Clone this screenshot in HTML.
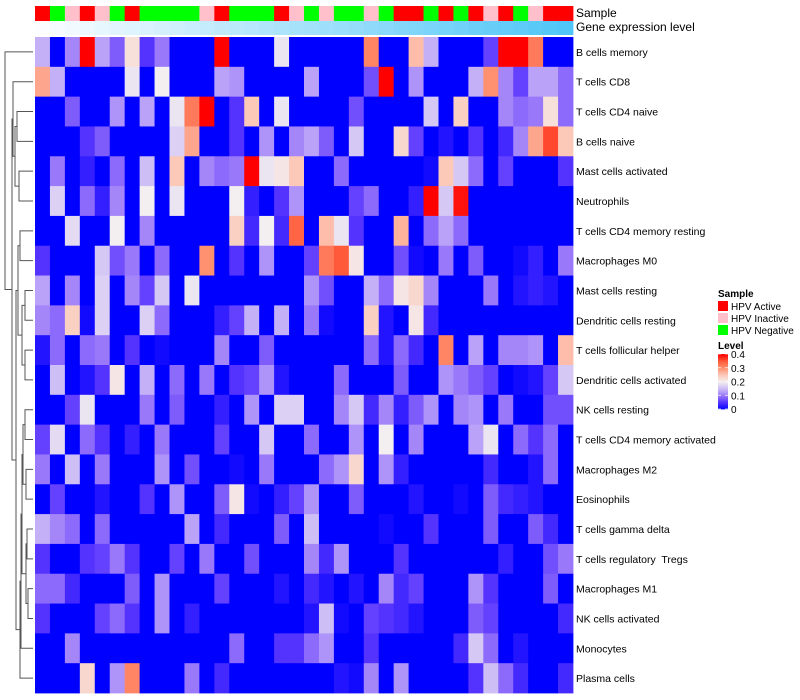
<!DOCTYPE html>
<html><head><meta charset="utf-8"><style>
body{margin:0;background:#fff;}
svg{display:block;font-family:"Liberation Sans",sans-serif;}
text{white-space:pre;}
</style></head><body>
<svg id="chart" width="800" height="700"></svg>
<script>
const rowNames=["B cells memory","T cells CD8","T cells CD4 naive","B cells naive","Mast cells activated","Neutrophils","T cells CD4 memory resting","Macrophages M0","Mast cells resting","Dendritic cells resting","T cells follicular helper","Dendritic cells activated","NK cells resting","T cells CD4 memory activated","Macrophages M2","Eosinophils","T cells gamma delta","T cells regulatory  Tregs","Macrophages M1","NK cells activated","Monocytes","Plasma cells"];
const sampleGroups="A N I A I N A N N N N I A N N N A I N I N N I N A A N A N A I A N I A A".split(" ");
const levelTicks=[0,0.1,0.2,0.3,0.4];
const r0=[0.14,0,0.11,0.4,0.13,0.08,0.22,0.05,0.1,0,0,0,0.4,0,0,0,0.19,0,0,0,0,0,0.31,0,0,0.26,0.14,0,0,0,0.06,0.4,0.4,0.32,0,0];
const r1=[0.28,0.14,0,0,0,0,0.19,0,0.2,0,0,0,0.13,0.12,0,0,0,0,0.13,0,0,0,0.07,0.4,0,0.12,0,0,0,0.14,0.3,0.11,0.06,0.13,0.13,0.09];
const r2=[0,0,0.08,0,0,0.12,0,0.13,0,0.19,0.32,0.4,0,0.05,0.25,0,0.19,0,0,0,0,0.07,0,0,0,0,0.16,0,0.24,0,0,0.11,0.09,0.1,0.22,0.09];
const r3=[0,0,0,0.05,0.08,0,0,0,0,0.17,0.28,0,0,0.05,0,0.12,0,0.11,0.13,0.08,0,0.16,0,0,0.23,0.06,0,0.02,0,0.05,0,0.04,0.11,0.28,0.36,0.25];
const r4=[0,0.1,0,0.03,0,0.09,0,0.15,0,0.25,0,0.11,0.09,0.1,0.4,0.19,0.21,0.25,0,0,0.09,0,0,0,0,0,0.01,0.25,0.16,0.09,0,0.06,0,0,0,0.05];
const r5=[0,0.17,0,0.09,0.03,0.11,0,0.2,0,0.19,0,0,0,0.2,0.03,0,0.05,0.12,0,0,0,0.06,0.09,0,0,0.03,0.4,0.16,0.39,0,0,0,0,0,0,0];
const r6=[0,0,0.18,0,0,0.2,0,0.11,0,0,0,0,0,0.24,0.04,0.2,0.04,0.34,0,0.26,0.19,0.05,0,0,0.27,0,0.09,0.13,0.09,0,0,0,0,0,0,0];
const r7=[0.05,0,0,0,0.16,0.07,0.1,0,0.09,0,0,0.3,0,0.05,0,0.12,0,0,0.06,0.32,0.35,0.21,0,0,0.07,0.01,0,0.1,0,0.08,0,0,0.01,0.03,0,0.1];
const r8=[0.13,0,0.11,0,0.17,0,0.11,0.06,0.16,0,0.19,0,0,0,0,0,0,0,0.12,0.07,0,0,0.14,0.09,0.21,0.23,0.11,0,0,0,0.1,0,0.02,0.03,0.02,0];
const r9=[0.11,0.09,0.24,0.01,0.17,0,0,0.17,0.09,0,0,0,0.03,0.06,0.14,0,0.14,0,0.1,0.01,0,0,0.24,0.02,0,0.21,0.04,0,0,0,0,0,0,0,0,0];
const r10=[0.02,0.09,0,0.09,0.1,0,0.05,0,0.01,0,0,0,0.11,0,0,0.08,0,0,0,0,0,0,0.09,0.02,0.09,0.04,0,0.31,0,0.13,0,0.11,0.11,0.12,0,0.26];
const r11=[0,0.15,0,0.02,0.05,0.21,0,0.14,0,0.09,0,0.1,0,0.05,0.06,0.12,0.02,0,0,0,0.09,0,0,0,0.08,0,0,0.12,0.1,0.08,0.06,0,0.01,0.02,0.06,0.16];
const r12=[0,0,0.06,0.19,0,0,0,0.1,0,0.08,0,0,0.03,0,0.12,0,0.17,0.17,0,0,0.11,0.16,0.04,0.11,0.03,0.08,0.12,0,0.11,0.12,0,0.1,0,0,0.07,0.07];
const r13=[0.06,0.18,0,0.09,0.05,0,0.03,0,0.1,0,0,0,0.06,0,0,0.16,0,0,0.09,0,0,0.12,0,0.2,0,0.11,0,0,0,0.13,0.19,0,0.09,0.05,0.09,0];
const r14=[0.1,0,0.15,0,0.1,0,0,0,0.12,0,0.07,0,0,0.01,0,0.1,0,0,0,0.09,0.12,0.23,0,0.12,0.03,0,0,0,0,0,0.04,0,0,0.02,0.09,0];
const r15=[0,0.06,0,0,0.02,0,0,0.05,0,0.12,0,0,0.08,0.21,0.01,0,0.03,0.06,0.12,0,0,0.08,0,0,0,0.02,0,0,0.01,0,0.08,0.04,0.03,0.02,0,0];
const r16=[0.14,0.11,0.09,0,0.09,0,0,0,0,0,0.13,0,0.04,0,0,0,0.08,0,0.15,0,0,0,0,0.01,0,0,0.05,0,0,0,0.08,0,0,0.08,0.04,0];
const r17=[0.05,0,0,0.05,0.06,0.1,0.05,0,0,0.06,0,0.1,0,0,0.07,0,0,0,0.11,0.04,0.12,0,0,0,0.05,0,0,0,0,0,0,0.03,0,0,0.07,0.1];
const r18=[0.09,0.09,0.04,0,0,0,0.08,0,0.12,0,0,0,0.06,0,0,0,0.02,0,0.04,0.02,0,0.02,0,0.11,0.04,0.06,0,0,0,0.12,0.05,0,0,0,0.08,0];
const r19=[0.05,0,0,0,0.06,0.09,0.05,0,0.12,0,0.03,0,0,0,0,0,0,0,0.02,0.15,0.01,0,0.06,0.05,0.04,0.02,0,0,0,0.08,0.06,0,0,0,0,0.04];
const r20=[0,0,0.11,0,0,0,0,0,0,0,0,0,0,0.09,0,0,0.05,0.05,0.09,0.12,0,0,0.05,0,0,0,0,0,0.04,0.16,0.09,0,0.02,0,0,0];
const r21=[0,0,0,0.23,0,0.12,0.31,0,0,0,0.1,0,0.04,0,0,0,0,0,0,0,0.02,0.01,0.11,0,0.12,0,0,0,0,0.05,0.15,0.09,0.04,0,0,0.04];
const values=[r0,r1,r2,r3,r4,r5,r6,r7,r8,r9,r10,r11,r12,r13,r14,r15,r16,r17,r18,r19,r20,r21];

const NS="http://www.w3.org/2000/svg";
const svg=document.getElementById("chart");
const X0=35,X1=573,Y0=37,Y1=693;
const nC=sampleGroups.length,nR=rowNames.length;
const cw=(X1-X0)/nC,rh=(Y1-Y0)/nR;
const xCol=c=>X0+c*cw, yRow=r=>Y0+r*rh;
const stops=[[0,[0,0,255]],[0.05,[85,51,255]],[0.1,[154,120,250]],[0.15,[205,190,246]],[0.2,[243,238,240]],[0.25,[252,200,184]],[0.3,[255,144,112]],[0.35,[255,90,58]],[0.4,[255,0,0]]];
function colorOf(v){v=Math.max(0,Math.min(0.4,v));for(let i=1;i<stops.length;i++){if(v<=stops[i][0]){const a=stops[i-1],b=stops[i],t=(v-a[0])/(b[0]-a[0]);return "rgb("+a[1].map((x,k)=>Math.round(x+(b[1][k]-x)*t)).join(",")+")";}}return "rgb(255,0,0)";}
function mk(tag,attrs,parent){const e=document.createElementNS(NS,tag);for(const k in attrs)e.setAttribute(k,attrs[k]);(parent||svg).appendChild(e);return e;}
const groupColor={A:"#ff0000",I:"#ffc0cb",N:"#00ff00"};

for(let c=0;c<nC;c++){
  const s=mk("rect",{x:xCol(c),y:6,width:cw+0.4,height:15,fill:groupColor[sampleGroups[c]]});
  
  
  const t=c/(nC-1);
  const g=mk("rect",{x:xCol(c),y:21,width:cw+0.4,height:14,fill:`rgb(${Math.round(251-172*t)},${Math.round(253-55*t)},${Math.round(255-8*t)})`});
  
  
}
for(let r=0;r<nR;r++){
  for(let c=0;c<nC;c++){
    const e=mk("rect",{x:xCol(c),y:yRow(r),width:cw+0.4,height:rh+0.4,fill:colorOf(values[r][c])});
    
    
  }
  const t=mk("text",{x:576,y:yRow(r)+rh/2+4,"font-size":10.5,fill:"#000"});
  t.textContent=rowNames[r];
  
  
}
const t1=mk("text",{x:576,y:17,"font-size":12});t1.textContent="Sample";


const t2=mk("text",{x:576,y:31,"font-size":12});t2.textContent="Gene expression level";



const tree={h:5,l:0,r:{h:12,l:{h:13,l:1,r:{h:15,l:{h:17,l:2,r:3},r:{h:19,l:4,r:5}}},r:{h:16,l:{h:18,l:{h:20,l:6,r:7},r:{h:22,l:{h:25,l:8,r:9},r:{h:25,l:10,r:11}}},r:{h:20,l:{h:21,l:{h:22,l:{h:23,l:{h:25,l:12,r:13},r:{h:26,l:14,r:15}},r:{h:26,l:{h:27,l:16,r:17},r:{h:28,l:18,r:19}}},r:20},r:21}}}};
const dg=mk("g",{stroke:"#555","stroke-width":1,fill:"none"});


function draw(n){
  if(typeof n==="number")return{y:yRow(n)+rh/2,x:33};
  const a=draw(n.l),b=draw(n.r);
  mk("path",{d:`M${a.x},${a.y}H${n.h}V${b.y}H${b.x}`},dg);
  return{y:(a.y+b.y)/2,x:n.h};
}
draw(tree);

const lg=mk("g",{});


const lt=mk("text",{x:718,y:297,"font-size":10,"font-weight":"bold"},lg);lt.textContent="Sample";
const entries=[["A","HPV Active"],["I","HPV Inactive"],["N","HPV Negative"]];
entries.forEach((e,i)=>{
  const sq=mk("rect",{x:718,y:301+i*12,width:10,height:10,fill:groupColor[e[0]]},lg);
  
  
  const tx=mk("text",{x:731,y:310+i*12,"font-size":10},lg);tx.textContent=e[1];
  
  
});
const lv=mk("text",{x:718,y:349,"font-size":10,"font-weight":"bold"},lg);lv.textContent="Level";
const cbTop=354,cbBot=409;
for(let i=0;i<40;i++){
  const v=0.4*(i+0.5)/40;
  const yy=cbBot-(cbBot-cbTop)*(i+1)/40;
  mk("rect",{x:718,y:yy,width:10,height:(cbBot-cbTop)/40+0.4,fill:colorOf(v)},lg);
}
levelTicks.forEach(v=>{
  const yy=cbBot-(cbBot-cbTop)*v/0.4;
  mk("line",{x1:718,x2:721,y1:yy,y2:yy,stroke:"#fff","stroke-width":0.7},lg);
  mk("line",{x1:725,x2:728,y1:yy,y2:yy,stroke:"#fff","stroke-width":0.7},lg);
  const tx=mk("text",{x:731,y:yy+4,"font-size":10},lg);tx.textContent=String(v);
  
  
});
</script>
</body></html>
